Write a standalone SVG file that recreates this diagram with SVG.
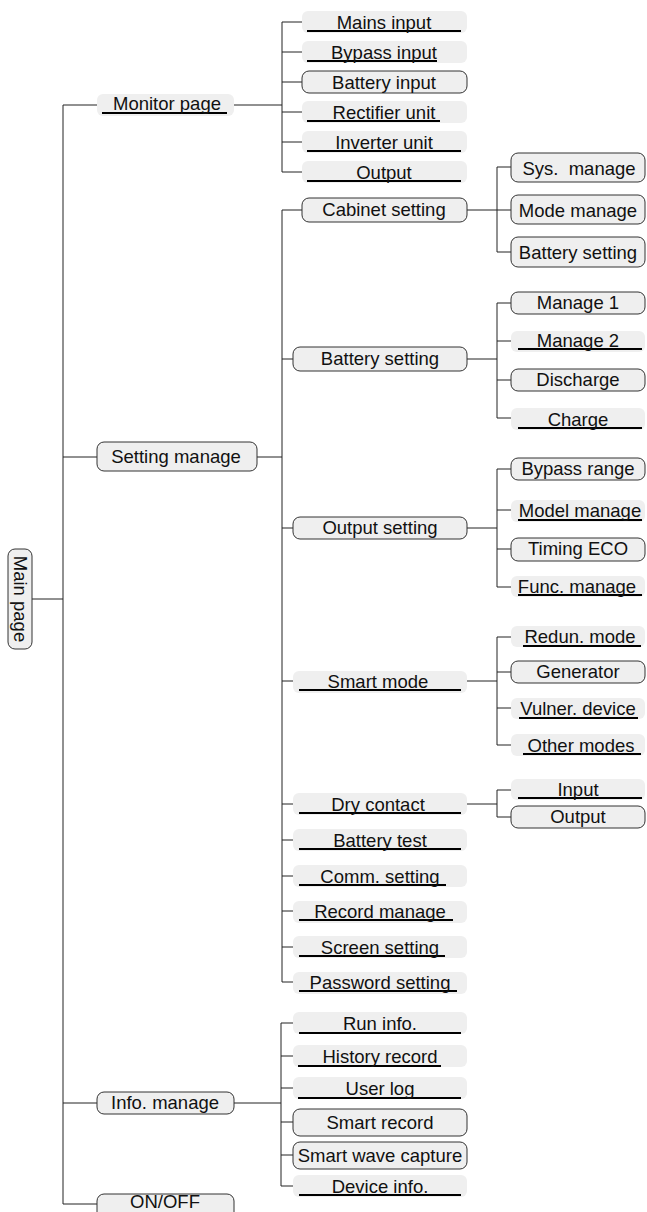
<svg xmlns="http://www.w3.org/2000/svg" width="647" height="1212" viewBox="0 0 647 1212">
<style>
.b{fill:#efefef;stroke:#333;stroke-width:1}
.f{fill:#efefef;stroke:none}
.u{stroke:#000;stroke-width:2}
.t{font-family:"Liberation Sans",Arial,sans-serif;font-size:18.5px;fill:#111;text-anchor:middle}
.c{fill:none;stroke:#222;stroke-width:1}
</style>
<rect width="647" height="1212" fill="#fff"/>
<g id="connectors" class="c">
<path d="M63,105V1204M63,105H97M63,457H97M32,599H63M63,1103H97M63,1204H97"/>
<path d="M234,105H282M282,22V172M282,22H302M282,52H302M282,82H302M282,112H302M282,142H302M282,172H302"/>
<path d="M257,457H282M282,210V982M282,210H302M282,359H293M282,528H293M282,681H293M282,804H293M282,840H293M282,876H293M282,911H293M282,947H293M282,982H293"/>
<path d="M467,210H497M497,167V252M497,167H511M497,210H511M497,252H511"/>
<path d="M467,359H497M497,303V418M497,303H511M497,341H511M497,380H511M497,418H511"/>
<path d="M467,528H497M497,469V587M497,469H511M497,510H511M497,549H511M497,587H511"/>
<path d="M467,681H497M497,637V745M497,637H511M497,672H511M497,708H511M497,745H511"/>
<path d="M467,804H497M497,790V817M497,790H511M497,817H511"/>
<path d="M234,1103H281M281,1023V1186M281,1023H293M281,1056H293M281,1088H293M281,1122H293M281,1155H293M281,1186H293"/>
</g>
<g id="main-page"><rect class="b" x="8" y="549" width="24" height="100" rx="7"/><text class="t" transform="translate(20,599) rotate(90)" y="6.5">Main page</text></g>
<g id="monitor-page"><rect class="f" x="97" y="94" width="137" height="22" rx="6"/><line class="u" x1="102" y1="113" x2="227" y2="113"/><text class="t" x="167" y="110">Monitor page</text></g>
<g id="setting-manage"><rect class="b" x="97" y="442" width="160" height="29" rx="7"/><text class="t" x="176" y="463">Setting manage</text></g>
<g id="info-manage"><rect class="b" x="97" y="1092" width="137" height="22" rx="7"/><text class="t" x="165" y="1109">Info. manage</text></g>
<g id="on-off"><rect class="b" x="97" y="1194" width="137" height="30" rx="7"/><text class="t" x="165" y="1208">ON/OFF</text></g>

<g id="mains-input"><rect class="f" x="302" y="11" width="165" height="22" rx="6"/><line class="u" x1="307" y1="31" x2="461" y2="31"/><text class="t" x="384" y="29">Mains input</text></g>
<g id="bypass-input"><rect class="f" x="302" y="41" width="165" height="22" rx="6"/><line class="u" x1="307" y1="61" x2="437" y2="61"/><text class="t" x="384" y="59">Bypass input</text></g>
<g id="battery-input"><rect class="b" x="302" y="71" width="165" height="22" rx="7"/><text class="t" x="384" y="89">Battery input</text></g>
<g id="rectifier-unit"><rect class="f" x="302" y="101" width="165" height="22" rx="6"/><line class="u" x1="307" y1="121" x2="440" y2="121"/><text class="t" x="384" y="119">Rectifier unit</text></g>
<g id="inverter-unit"><rect class="f" x="302" y="131" width="165" height="22" rx="6"/><line class="u" x1="307" y1="151" x2="461" y2="151"/><text class="t" x="384" y="149">Inverter unit</text></g>
<g id="output-mon"><rect class="f" x="302" y="161" width="165" height="22" rx="6"/><line class="u" x1="307" y1="181" x2="461" y2="181"/><text class="t" x="384" y="179">Output</text></g>

<g id="cabinet-setting"><rect class="b" x="302" y="198" width="165" height="24" rx="7"/><text class="t" x="384" y="216">Cabinet setting</text></g>
<g id="battery-setting"><rect class="b" x="293" y="347" width="174" height="24" rx="7"/><text class="t" x="380" y="365">Battery setting</text></g>
<g id="output-setting"><rect class="b" x="293" y="517" width="174" height="22" rx="7"/><text class="t" x="380" y="534">Output setting</text></g>
<g id="smart-mode"><rect class="f" x="293" y="671" width="174" height="22" rx="6"/><line class="u" x1="299" y1="690" x2="461" y2="690"/><text class="t" x="378" y="688">Smart mode</text></g>
<g id="dry-contact"><rect class="f" x="293" y="793" width="174" height="22" rx="6"/><line class="u" x1="299" y1="813" x2="461" y2="813"/><text class="t" x="378" y="811">Dry contact</text></g>
<g id="battery-test"><rect class="f" x="293" y="829" width="174" height="22" rx="6"/><line class="u" x1="299" y1="849" x2="461" y2="849"/><text class="t" x="380" y="847">Battery test</text></g>
<g id="comm-setting"><rect class="f" x="293" y="865" width="174" height="22" rx="6"/><line class="u" x1="299" y1="885" x2="446" y2="885"/><text class="t" x="380" y="883">Comm. setting</text></g>
<g id="record-manage"><rect class="f" x="293" y="901" width="174" height="22" rx="6"/><line class="u" x1="299" y1="920" x2="453" y2="920"/><text class="t" x="380" y="918">Record manage</text></g>
<g id="screen-setting"><rect class="f" x="293" y="936" width="174" height="22" rx="6"/><line class="u" x1="299" y1="956" x2="445" y2="956"/><text class="t" x="380" y="954">Screen setting</text></g>
<g id="password-setting"><rect class="f" x="293" y="972" width="174" height="22" rx="6"/><line class="u" x1="299" y1="991" x2="457" y2="991"/><text class="t" x="380" y="989">Password setting</text></g>

<g id="sys-manage"><rect class="b" x="511" y="153" width="134" height="29" rx="7"/><text class="t" x="579" y="175" xml:space="preserve">Sys.  manage</text></g>
<g id="mode-manage"><rect class="b" x="511" y="195" width="134" height="29" rx="7"/><text class="t" x="578" y="217">Mode manage</text></g>
<g id="battery-setting-2"><rect class="b" x="511" y="237" width="134" height="30" rx="7"/><text class="t" x="578" y="259">Battery setting</text></g>

<g id="manage-1"><rect class="b" x="511" y="292" width="134" height="22" rx="7"/><text class="t" x="578" y="309">Manage 1</text></g>
<g id="manage-2"><rect class="f" x="511" y="331" width="134" height="21" rx="6"/><line class="u" x1="518" y1="349" x2="642" y2="349"/><text class="t" x="578" y="347">Manage 2</text></g>
<g id="discharge"><rect class="b" x="511" y="369" width="134" height="22" rx="7"/><text class="t" x="578" y="386">Discharge</text></g>
<g id="charge"><rect class="f" x="511" y="408" width="134" height="22" rx="6"/><line class="u" x1="518" y1="428" x2="642" y2="428"/><text class="t" x="578" y="426">Charge</text></g>

<g id="bypass-range"><rect class="b" x="511" y="458" width="134" height="22" rx="7"/><text class="t" x="578" y="475">Bypass range</text></g>
<g id="model-manage"><rect class="f" x="511" y="500" width="134" height="22" rx="6"/><line class="u" x1="518" y1="520" x2="642" y2="520"/><text class="t" x="580" y="517">Model manage</text></g>
<g id="timing-eco"><rect class="b" x="511" y="538" width="134" height="23" rx="7"/><text class="t" x="578" y="555">Timing ECO</text></g>
<g id="func-manage"><rect class="f" x="511" y="576" width="134" height="21" rx="6"/><line class="u" x1="518" y1="595" x2="642" y2="595"/><text class="t" x="577" y="593">Func. manage</text></g>

<g id="redun-mode"><rect class="f" x="511" y="626" width="134" height="21" rx="6"/><line class="u" x1="523" y1="646" x2="641" y2="646"/><text class="t" x="580" y="643">Redun. mode</text></g>
<g id="generator"><rect class="b" x="511" y="661" width="134" height="22" rx="7"/><text class="t" x="578" y="678">Generator</text></g>
<g id="vulner-device"><rect class="f" x="511" y="698" width="134" height="21" rx="6"/><line class="u" x1="519" y1="718" x2="638" y2="718"/><text class="t" x="578" y="715">Vulner. device</text></g>
<g id="other-modes"><rect class="f" x="511" y="734" width="134" height="22" rx="6"/><line class="u" x1="523" y1="754" x2="641" y2="754"/><text class="t" x="581" y="752">Other modes</text></g>

<g id="input-dry"><rect class="f" x="511" y="779" width="134" height="21" rx="6"/><line class="u" x1="518" y1="798" x2="642" y2="798"/><text class="t" x="578" y="796">Input</text></g>
<g id="output-dry"><rect class="b" x="511" y="806" width="134" height="22" rx="7"/><text class="t" x="578" y="823">Output</text></g>

<g id="run-info"><rect class="f" x="293" y="1012" width="174" height="22" rx="6"/><line class="u" x1="299" y1="1033" x2="461" y2="1033"/><text class="t" x="380" y="1030">Run info.</text></g>
<g id="history-record"><rect class="f" x="293" y="1045" width="174" height="22" rx="6"/><line class="u" x1="298" y1="1066" x2="441" y2="1066"/><text class="t" x="380" y="1063">History record</text></g>
<g id="user-log"><rect class="f" x="293" y="1077" width="174" height="22" rx="6"/><line class="u" x1="298" y1="1098" x2="461" y2="1098"/><text class="t" x="380" y="1095">User log</text></g>
<g id="smart-record"><rect class="b" x="293" y="1109" width="174" height="27" rx="7"/><text class="t" x="380" y="1129">Smart record</text></g>
<g id="smart-wave-capture"><rect class="b" x="293" y="1142" width="174" height="27" rx="7"/><text class="t" x="380" y="1162">Smart wave capture</text></g>
<g id="device-info"><rect class="f" x="293" y="1175" width="174" height="22" rx="6"/><line class="u" x1="299" y1="1195" x2="461" y2="1195"/><text class="t" x="380" y="1193">Device info.</text></g>
</svg>
